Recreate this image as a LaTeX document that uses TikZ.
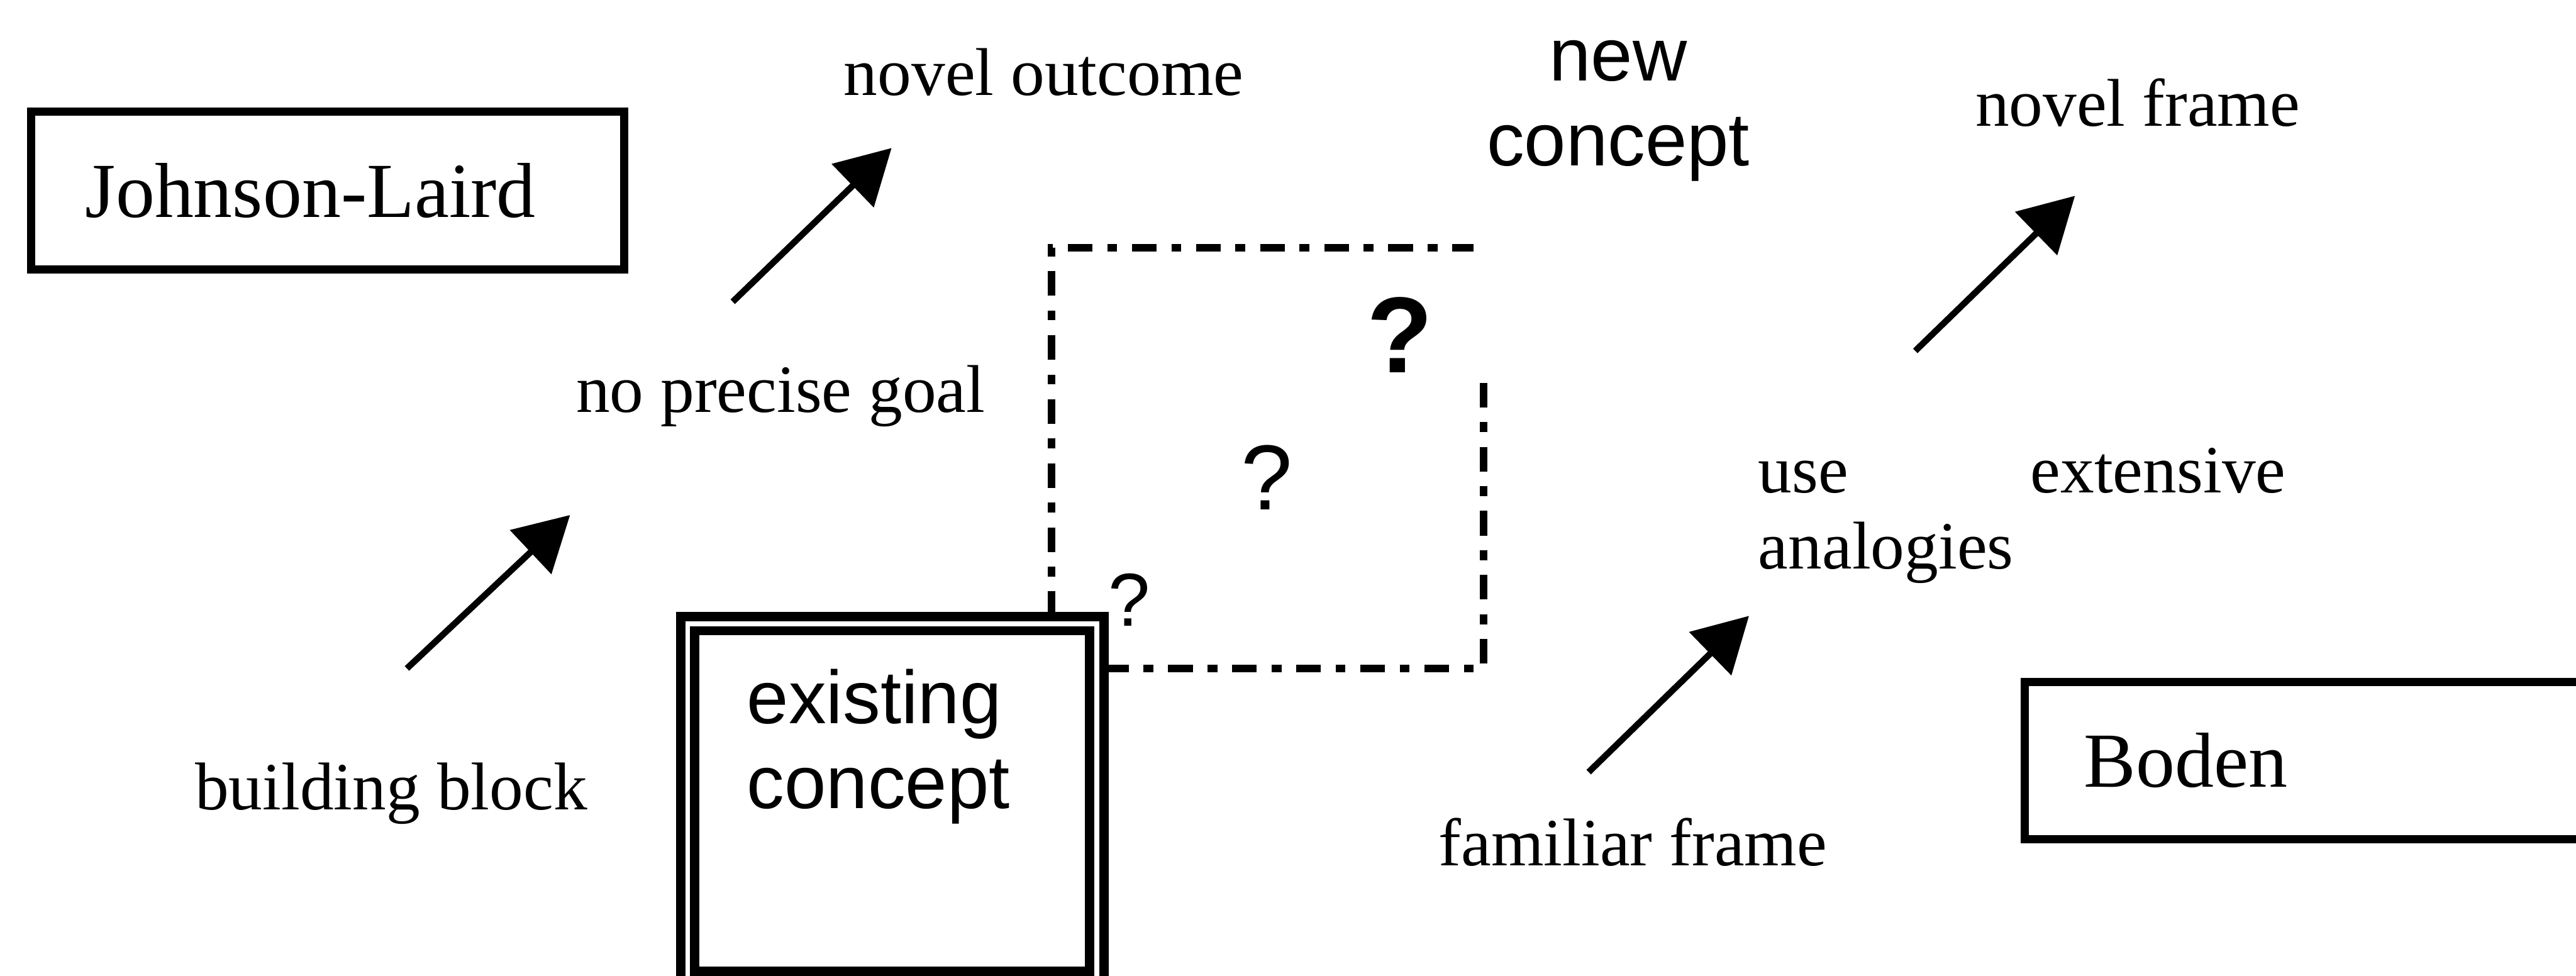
\documentclass[tikz,border=0pt]{standalone}
\usepackage{fontspec}
\setmainfont{Liberation Serif}
\setsansfont{Liberation Sans}
\usetikzlibrary{arrows.meta}

\begin{document}
\begin{tikzpicture}[
    lbl/.style={inner sep=0pt, anchor=base west, font=\fontsize{11.7}{13.2}\selectfont},
    namebox/.style={draw, line width=1.4pt, outer sep=0pt, anchor=west, align=left,
      minimum height=0.96cm, inner ysep=0pt, font=\fontsize{13.5}{16}\selectfont},
    concbox/.style={draw, double, line width=1.6pt, double distance=0.85pt, inner sep=0pt, outer sep=0pt},
    conc/.style={inner sep=0pt, font=\sffamily\fontsize{13}{14.7}\selectfont},
    qm/.style={inner sep=0pt, font=\sffamily\fontsize{#1}{#1}\selectfont},
    dashdot/.style={line width=1.3pt, dash pattern=on 1.5mm off 0.9mm on 0.6mm off 0.9mm},
    arr/.style={line width=1.1pt, -{Triangle[length=3.3mm,width=3.6mm]}}
  ]
  \useasboundingbox (0,0) rectangle (15.68,5.94);
  \clip (0,0) rectangle (15.68,5.94);

  \node[namebox, inner xsep=0.33cm, text width=2.95cm] (jl) at (0.19,4.78) {Johnson-Laird};
  \node[namebox, inner xsep=0.36cm, text width=3.3cm] (boden) at (12.325,1.31) {Boden};

  \draw[dashdot] (6.40,2.19) -- (6.40,4.43) -- (8.97,4.43);
  \draw[dashdot] (6.72,1.87) -- (9.03,1.87) -- (9.03,3.68);

  \node[concbox, minimum width=2.49cm, minimum height=2.16cm] (exist) at (5.431,1.064) {};
  \node[conc, anchor=base west, align=left] (existlbl) at (4.54,1.02) {existing\\concept};
  \node[conc, anchor=base, align=center] (newc) at (9.85,4.93) {new\\concept};

  \node[qm=18.7] (q1) at (8.52,3.90) {\bfseries ?};
  \node[qm=16] (q2) at (7.71,3.035) {?};
  \node[qm=13] (q3) at (6.875,2.29) {?};

  \node[lbl] (outcome) at (5.13,5.36) {novel outcome};
  \node[lbl] (goal) at (3.50,3.43) {no precise goal};
  \node[lbl] (block) at (1.18,1.01) {building block};
  \node[lbl, text width=3.21cm, align=left] (analog) at (10.696,2.94) {use\hfill extensive\\analogies};
  \node[lbl] (familiar) at (8.75,0.67) {familiar frame};
  \node[lbl] (frame) at (12.017,5.173) {novel frame};

  \draw[arr] ([shift={(1.297,0.861)}]block.base west) -- ([shift={(-0.03,-0.625)}]goal.base west);
  \draw[arr] ([shift={(0.96,0.673)}]goal.base west) -- ([shift={(0.297,-0.321)}]outcome.base west);
  \draw[arr] ([shift={(0.92,0.57)}]familiar.base west) -- ([shift={(-0.05,-0.749)}]analog.base west);
  \draw[arr] ([shift={(0.962,0.864)}]analog.base west) -- ([shift={(0.613,-0.425)}]frame.base west);
\end{tikzpicture}
\end{document}
